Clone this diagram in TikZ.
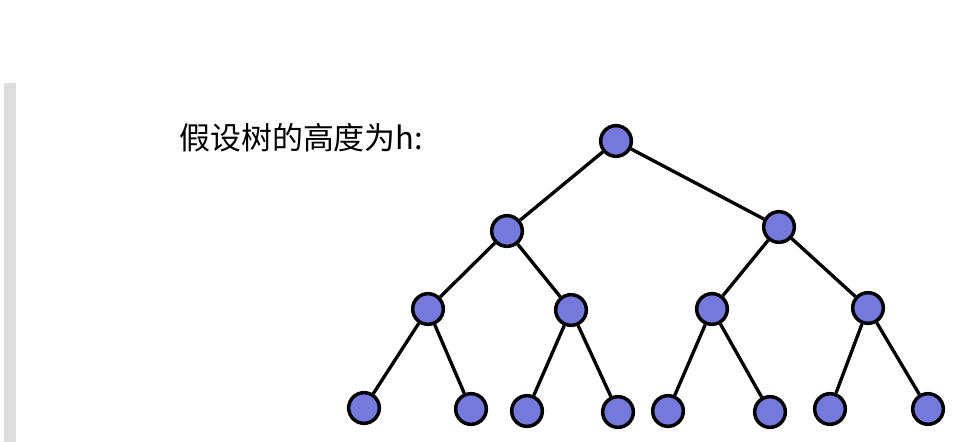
\documentclass[tikz,border=0pt]{standalone}
\usepackage{fontspec}
\newfontfamily\cjk{Noto Sans CJK SC}
\usepackage{xcolor}
\definecolor{bar}{HTML}{DDDDDD}
\definecolor{leaf}{HTML}{7479DB}

\begin{document}
\begin{tikzpicture}[
  x=0.75pt, y=-0.75pt,
  vertex/.style={circle, draw=black, line width=2.6pt, fill=leaf, minimum size=23pt, inner sep=0pt},
  edge/.style={line width=2.5pt}
]
\useasboundingbox (0,0) rectangle (964,442);
\fill[bar] (4,83) rectangle (16,442);
\node[anchor=west, inner sep=0pt] (title) at (179,138) {\cjk\fontsize{23.2pt}{28pt}\selectfont 假设树的高度为h:};
% level 1 and 2
\node[vertex] (r) at (616,141) {};
\node[vertex] (a) at (507,231) {};
\node[vertex] (b) at (779,227) {};
% level 3
\node[vertex] (aa) at (428,309) {};
\node[vertex] (ab) at (571,310) {};
\node[vertex] (ba) at (712,309) {};
\node[vertex] (bb) at (868,308) {};
% leaves
\node[vertex] (aaa) at (364,408) {};
\node[vertex] (aab) at (471,409) {};
\node[vertex] (aba) at (527,411) {};
\node[vertex] (abb) at (618,412) {};
\node[vertex] (baa) at (668,411) {};
\node[vertex] (bab) at (770,412) {};
\node[vertex] (bba) at (830,409) {};
\node[vertex] (bbb) at (928,409) {};
\foreach \p/\c in {r/a, r/b, a/aa, a/ab, b/ba, b/bb, aa/aaa, aa/aab, ab/aba, ab/abb, ba/baa, ba/bab, bb/bba, bb/bbb}
  \draw[edge] (\p) -- (\c);
\end{tikzpicture}
\end{document}
